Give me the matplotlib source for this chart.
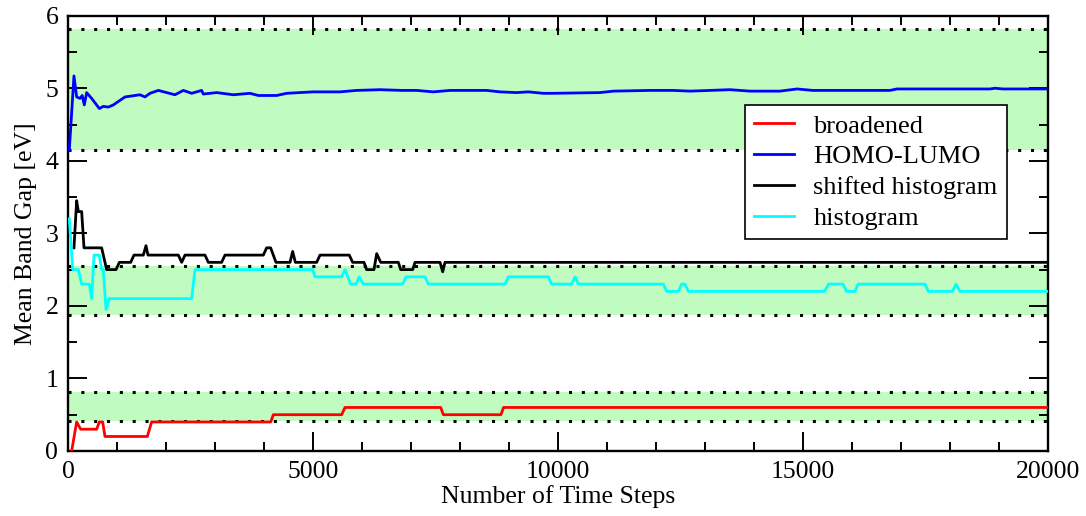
import matplotlib
matplotlib.use("Agg")
import matplotlib.pyplot as plt
from matplotlib.ticker import MultipleLocator

plt.rcParams['font.family'] = ['Liberation Serif', 'DejaVu Serif']

# broadened
x_red = [75, 177, 259, 585, 640, 708, 755, 1619, 1707, 4137, 4191, 5585, 5653,
         7606, 7661, 8835, 8890, 20000]
y_red = [0.0, 0.4, 0.3, 0.3, 0.4, 0.4, 0.2, 0.2, 0.4, 0.4, 0.5, 0.5, 0.6,
         0.6, 0.5, 0.5, 0.6, 0.6]

# HOMO-LUMO
x_blue = [27, 122, 177, 245, 290, 333, 381, 483, 640, 721, 823, 925, 1163, 1265,
          1470, 1571, 1673, 1843, 2014, 2184, 2354, 2524, 2728, 2760, 3034, 3374,
          3714, 3884, 4259, 4463, 5000, 5551, 5891, 6367, 6810, 7116, 7456, 7796,
          8544, 8816, 9157, 9395, 9700, 9905, 10857, 11129, 11877, 12353, 12700,
          13510, 13918, 14530, 14877, 15200, 16000, 16774, 16917, 17800, 18815,
          18918, 19082, 20000]
y_blue = [4.15, 5.17, 4.88, 4.86, 4.90, 4.77, 4.94, 4.86, 4.72, 4.75, 4.74, 4.77,
          4.88, 4.89, 4.91, 4.88, 4.93, 4.97, 4.94, 4.91, 4.97, 4.93, 4.97, 4.92,
          4.94, 4.91, 4.93, 4.90, 4.90, 4.93, 4.95, 4.95, 4.97, 4.98, 4.97, 4.97,
          4.95, 4.97, 4.97, 4.95, 4.94, 4.95, 4.93, 4.93, 4.94, 4.96, 4.97, 4.97,
          4.96, 4.98, 4.96, 4.96, 4.99, 4.97, 4.97, 4.97, 4.99, 4.99, 4.99, 5.00,
          4.99, 4.99]

# shifted histogram
x_black = [122, 177, 211, 279, 327, 687, 789, 980, 1048, 1279, 1347, 1538, 1592,
           1633, 2252, 2320, 2388, 2796, 2864, 3136, 3204, 3987, 4054, 4136, 4245,
           4531, 4585, 4640, 5075, 5143, 5741, 5809, 6041, 6095, 6245, 6300, 6382,
           6742, 6790, 7035, 7082, 7592, 7647, 7694, 20000]
y_black = [2.8, 3.45, 3.3, 3.3, 2.8, 2.8, 2.5, 2.5, 2.6, 2.6, 2.7, 2.7, 2.83,
           2.7, 2.7, 2.6, 2.7, 2.7, 2.6, 2.6, 2.7, 2.7, 2.8, 2.8, 2.6, 2.6, 2.75,
           2.6, 2.6, 2.7, 2.7, 2.6, 2.6, 2.5, 2.5, 2.72, 2.6, 2.6, 2.5, 2.5, 2.6,
           2.6, 2.47, 2.6, 2.6]

# histogram
x_cyan = [27, 96, 211, 279, 435, 483, 531, 640, 687, 721, 776, 844, 2524, 2592,
          4994, 5041, 5585, 5653, 5769, 5878, 5946, 6027, 6831, 6899, 7287, 7354,
          8919, 8987, 9803, 9871, 10279, 10348, 10416, 12150, 12218, 12456, 12524,
          12592, 12660, 15440, 15522, 15816, 15889, 16062, 16124, 17490, 17558,
          18052, 18123, 18205, 20000]
y_cyan = [3.2, 2.5, 2.5, 2.3, 2.3, 2.1, 2.7, 2.7, 2.5, 2.5, 1.95, 2.1, 2.1, 2.5,
          2.5, 2.4, 2.4, 2.5, 2.3, 2.3, 2.4, 2.3, 2.3, 2.4, 2.4, 2.3, 2.3, 2.4,
          2.4, 2.3, 2.3, 2.4, 2.3, 2.3, 2.2, 2.2, 2.3, 2.3, 2.2, 2.2, 2.3, 2.3,
          2.2, 2.2, 2.3, 2.3, 2.2, 2.2, 2.3, 2.2, 2.2]

# shaded ranges (lower, upper)
bands = [(4.15, 5.81), (1.87, 2.55), (0.41, 0.81)]

fig = plt.figure(figsize=(10.86, 5.16), dpi=100)
ax = fig.add_axes([0.0626, 0.126, 0.9024, 0.8436])

for lo, hi in bands:
    ax.axhspan(lo, hi, color='#c0fcc0', lw=0, zorder=0)
    for yy in (lo, hi):
        ax.axhline(yy, color='black', lw=2.2, ls=(0, (1, 3.2)), zorder=1)

ax.plot(x_red, y_red, color='#ff0000', lw=2.0, label='broadened', zorder=3)
ax.plot(x_blue, y_blue, color='#0000ff', lw=2.0, label='HOMO-LUMO', zorder=3)
ax.plot(x_black, y_black, color='black', lw=2.0, label='shifted histogram', zorder=3)
ax.plot(x_cyan, y_cyan, color='#00ffff', lw=2.0, label='histogram', zorder=3)

ax.set_xlim(0, 20000)
ax.set_ylim(0, 6)
ax.xaxis.set_major_locator(MultipleLocator(5000))
ax.xaxis.set_minor_locator(MultipleLocator(1000))
ax.yaxis.set_major_locator(MultipleLocator(1))
ax.yaxis.set_minor_locator(MultipleLocator(0.5))
ax.tick_params(which='both', direction='in', top=True, right=True,
               labelsize=18.5, width=1.4)
ax.tick_params(which='major', length=13.5, pad=7)
ax.tick_params(which='minor', length=6.5)
for s in ax.spines.values():
    s.set_linewidth(1.7)

ax.set_xlabel('Number of Time Steps', fontsize=18.5, labelpad=2)
ax.set_ylabel('Mean Band Gap [eV]', fontsize=18.5, labelpad=6)

leg = ax.legend(loc='upper right', bbox_to_anchor=(0.958, 0.795), fontsize=19,
                frameon=True, fancybox=False, edgecolor='black', framealpha=1,
                handlelength=1.5, handletextpad=0.75, labelspacing=0.28,
                borderpad=0.35, borderaxespad=0)
leg.get_frame().set_linewidth(1.2)
leg.set_zorder(5)

fig.savefig('out.png', dpi=100)
